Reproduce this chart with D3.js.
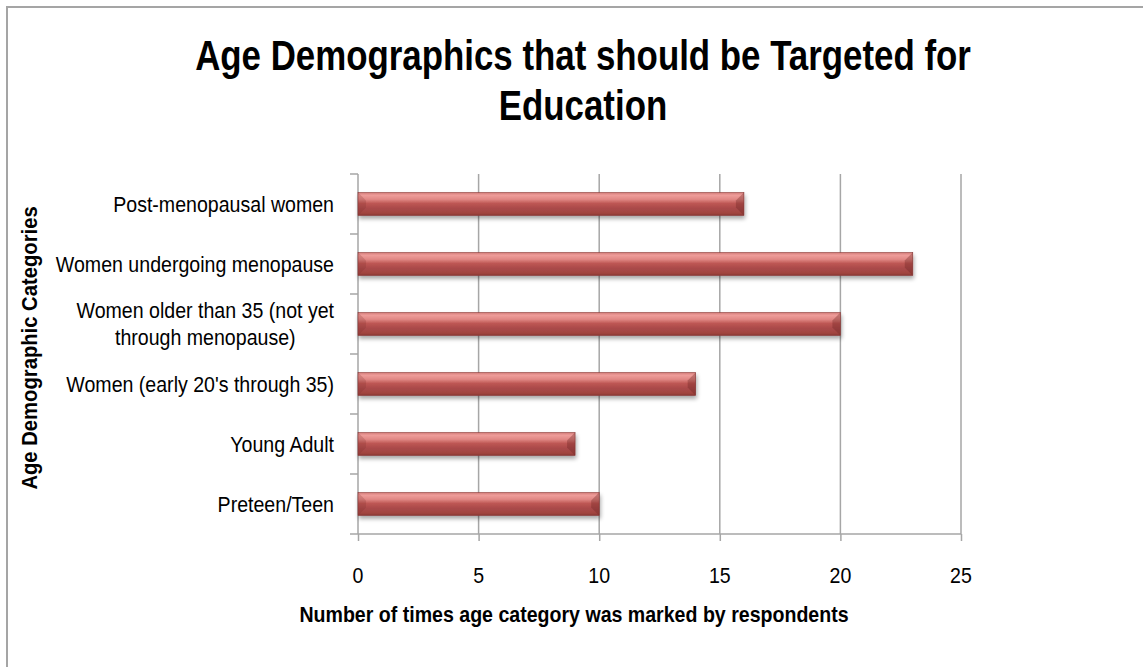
<!DOCTYPE html>
<html>
<head>
<meta charset="utf-8">
<script src="https://cdn.jsdelivr.net/npm/d3@7"></script>
<style>
  html, body { margin: 0; padding: 0; background: #fff; }
  svg { display: block; }
  text { font-family: "Liberation Sans", Arial, Helvetica, sans-serif; fill: #000; }
</style>
</head>
<body>
<svg id="chart" width="1143" height="667"></svg>
<script>
// Survey answers: how often each age group was chosen
const categories = [
  "Post-menopausal women",
  "Women undergoing menopause",
  "Women older than 35 (not yet through menopause)",
  "Women (early 20's through 35)",
  "Young Adult",
  "Preteen/Teen"
];
const categoryLines = [
  ["Post-menopausal women"],
  ["Women undergoing menopause"],
  ["Women older than 35 (not yet", "through menopause)"],
  ["Women (early 20's through 35)"],
  ["Young Adult"],
  ["Preteen/Teen"]
];
const counts = [16, 23, 20, 14, 9, 10];
const xTicks = [0, 5, 10, 15, 20, 25];
const titleLines = ["Age Demographics that should be Targeted for", "Education"];
const xTitle = "Number of times age category was marked by respondents";
const yTitle = "Age Demographic Categories";

const svg = d3.select("#chart");
const plot = { left: 358, right: 961, top: 174, bottom: 534 };

// narrow-face text: a regular face squeezed horizontally around its anchor point
function narrowText(parent, tx, ty, str, opts) {
  const o = Object.assign({ size: 22, sx: 0.89, anchor: "middle", weight: "normal", rotate: 0 }, opts || {});
  const g = parent.append("g")
    .attr("transform", `translate(${tx},${ty}) rotate(${o.rotate}) scale(${o.sx},1)`);
  return g.append("text")
    .attr("text-anchor", o.anchor)
    .attr("font-size", o.size)
    .attr("font-weight", o.weight)
    .text(str);
}

// outer chart frame
svg.append("rect")
  .attr("x", 7).attr("y", 7)
  .attr("width", 1150).attr("height", 680)
  .attr("fill", "#fff")
  .attr("stroke", "#a5a5a5").attr("stroke-width", 2);

const x = d3.scaleLinear().domain([0, 25]).range([plot.left, plot.right]);
const pad = 37 / 60;
const y = d3.scaleBand().domain(categories).range([plot.top, plot.bottom])
  .paddingInner(pad).paddingOuter(pad / 2);
const step = y.step();

const defs = svg.append("defs");
const grad = defs.append("linearGradient").attr("id", "barFill")
  .attr("x1", 0).attr("y1", 0).attr("x2", 0).attr("y2", 1);
[[0, "#d27a77"], [0.12, "#ee9d9a"], [0.3, "#e08784"], [0.48, "#bd5653"],
 [0.7, "#a9494a"], [0.9, "#a1443f"], [1, "#863634"]]
  .forEach(([o, c]) => grad.append("stop").attr("offset", o).attr("stop-color", c));

const shadow = defs.append("filter").attr("id", "barShadow")
  .attr("x", "-5%").attr("y", "-30%").attr("width", "110%").attr("height", "180%");
shadow.append("feGaussianBlur").attr("in", "SourceAlpha").attr("stdDeviation", 2.2);
shadow.append("feOffset").attr("dx", 1).attr("dy", 3).attr("result", "blur");
shadow.append("feComponentTransfer").append("feFuncA").attr("type", "linear").attr("slope", 0.35);
const merge = shadow.append("feMerge");
merge.append("feMergeNode");
merge.append("feMergeNode").attr("in", "SourceGraphic");

// vertical gridlines
svg.append("g")
  .selectAll("line")
  .data(xTicks.filter(d => d > 0))
  .join("line")
  .attr("x1", d => x(d)).attr("x2", d => x(d))
  .attr("y1", plot.top).attr("y2", plot.bottom)
  .attr("stroke", "#a6a6a6").attr("stroke-width", 1.5);

// axes
const xAxis = d3.axisBottom(x).tickValues(xTicks).tickSize(7).tickFormat("");
const gx = svg.append("g").attr("transform", `translate(0,${plot.bottom})`).call(xAxis);
gx.select(".domain").attr("stroke", "#a6a6a6").attr("stroke-width", 1.5).attr("d", `M${plot.left},0H${plot.right}`);
gx.selectAll(".tick line").attr("stroke", "#a6a6a6").attr("stroke-width", 1.5);

const yEdges = d3.range(categories.length + 1).map(i => plot.top + i * step);
const gy = svg.append("g");
gy.append("line")
  .attr("x1", plot.left).attr("x2", plot.left)
  .attr("y1", plot.top).attr("y2", plot.bottom)
  .attr("stroke", "#a6a6a6").attr("stroke-width", 1.5);
gy.selectAll(".ytick").data(yEdges).join("line")
  .attr("class", "ytick")
  .attr("x1", plot.left - 8).attr("x2", plot.left)
  .attr("y1", d => d).attr("y2", d => d)
  .attr("stroke", "#a6a6a6").attr("stroke-width", 1.5);

// x tick labels
const gxl = svg.append("g");
xTicks.forEach(d => narrowText(gxl, x(d), 583, d));

// category labels (a wrapped label is centred as a block whose right edge sits at labelRight)
const labelRight = 334;
const sxLabel = 0.89;
const gyl = svg.append("g");
categories.forEach((c, i) => {
  const lines = categoryLines[i];
  const cy = y(c) + y.bandwidth() / 2;
  const lh = 27;
  const texts = lines.map((ln, j) =>
    narrowText(gyl, 0, cy + (j - (lines.length - 1) / 2) * lh, ln, { sx: sxLabel })
      .attr("dy", "0.35em"));
  const maxW = d3.max(texts, t => t.node().getComputedTextLength()) * sxLabel;
  texts.forEach(t => {
    const g = d3.select(t.node().parentNode);
    const ty = +t.node().parentNode.getAttribute("transform").match(/translate\([^,]+,([^)]+)\)/)[1];
    g.attr("transform", `translate(${labelRight - maxW / 2},${ty}) scale(${sxLabel},1)`);
  });
});

// bars with bevelled ends
const bevel = 8;
const bars = svg.append("g").selectAll("g").data(categories).join("g")
  .attr("filter", "url(#barShadow)");
bars.append("rect")
  .attr("x", x(0)).attr("y", d => y(d))
  .attr("width", (d, i) => x(counts[i]) - x(0))
  .attr("height", y.bandwidth())
  .attr("fill", "url(#barFill)")
  .attr("stroke", "#8a3b39").attr("stroke-width", 0.6);
bars.append("path")
  .attr("d", d => {
    const x0 = x(0), y0 = y(d), y1 = y0 + y.bandwidth();
    return `M${x0},${y0}L${x0 + bevel},${y0 + bevel}L${x0 + bevel},${y1 - bevel}L${x0},${y1}Z`;
  })
  .attr("fill", "#7a2c2a").attr("opacity", 0.22);
bars.append("path")
  .attr("d", (d, i) => {
    const x1 = x(counts[i]), y0 = y(d), y1 = y0 + y.bandwidth();
    return `M${x1},${y0}L${x1 - bevel},${y0 + bevel}L${x1 - bevel},${y1 - bevel}L${x1},${y1}Z`;
  })
  .attr("fill", "#6d2422").attr("opacity", 0.35);

// titles
const gt = svg.append("g");
titleLines.forEach((t, i) =>
  narrowText(gt, 583, 70 + i * 50, t, { size: 42, sx: 0.83, weight: "bold" }));

narrowText(svg, 574, 622, xTitle, { size: 22, sx: 0.89, weight: "bold" });
narrowText(svg, 37, 348, yTitle, { size: 22, sx: 0.92, weight: "bold", rotate: -90 });
</script>
</body>
</html>
